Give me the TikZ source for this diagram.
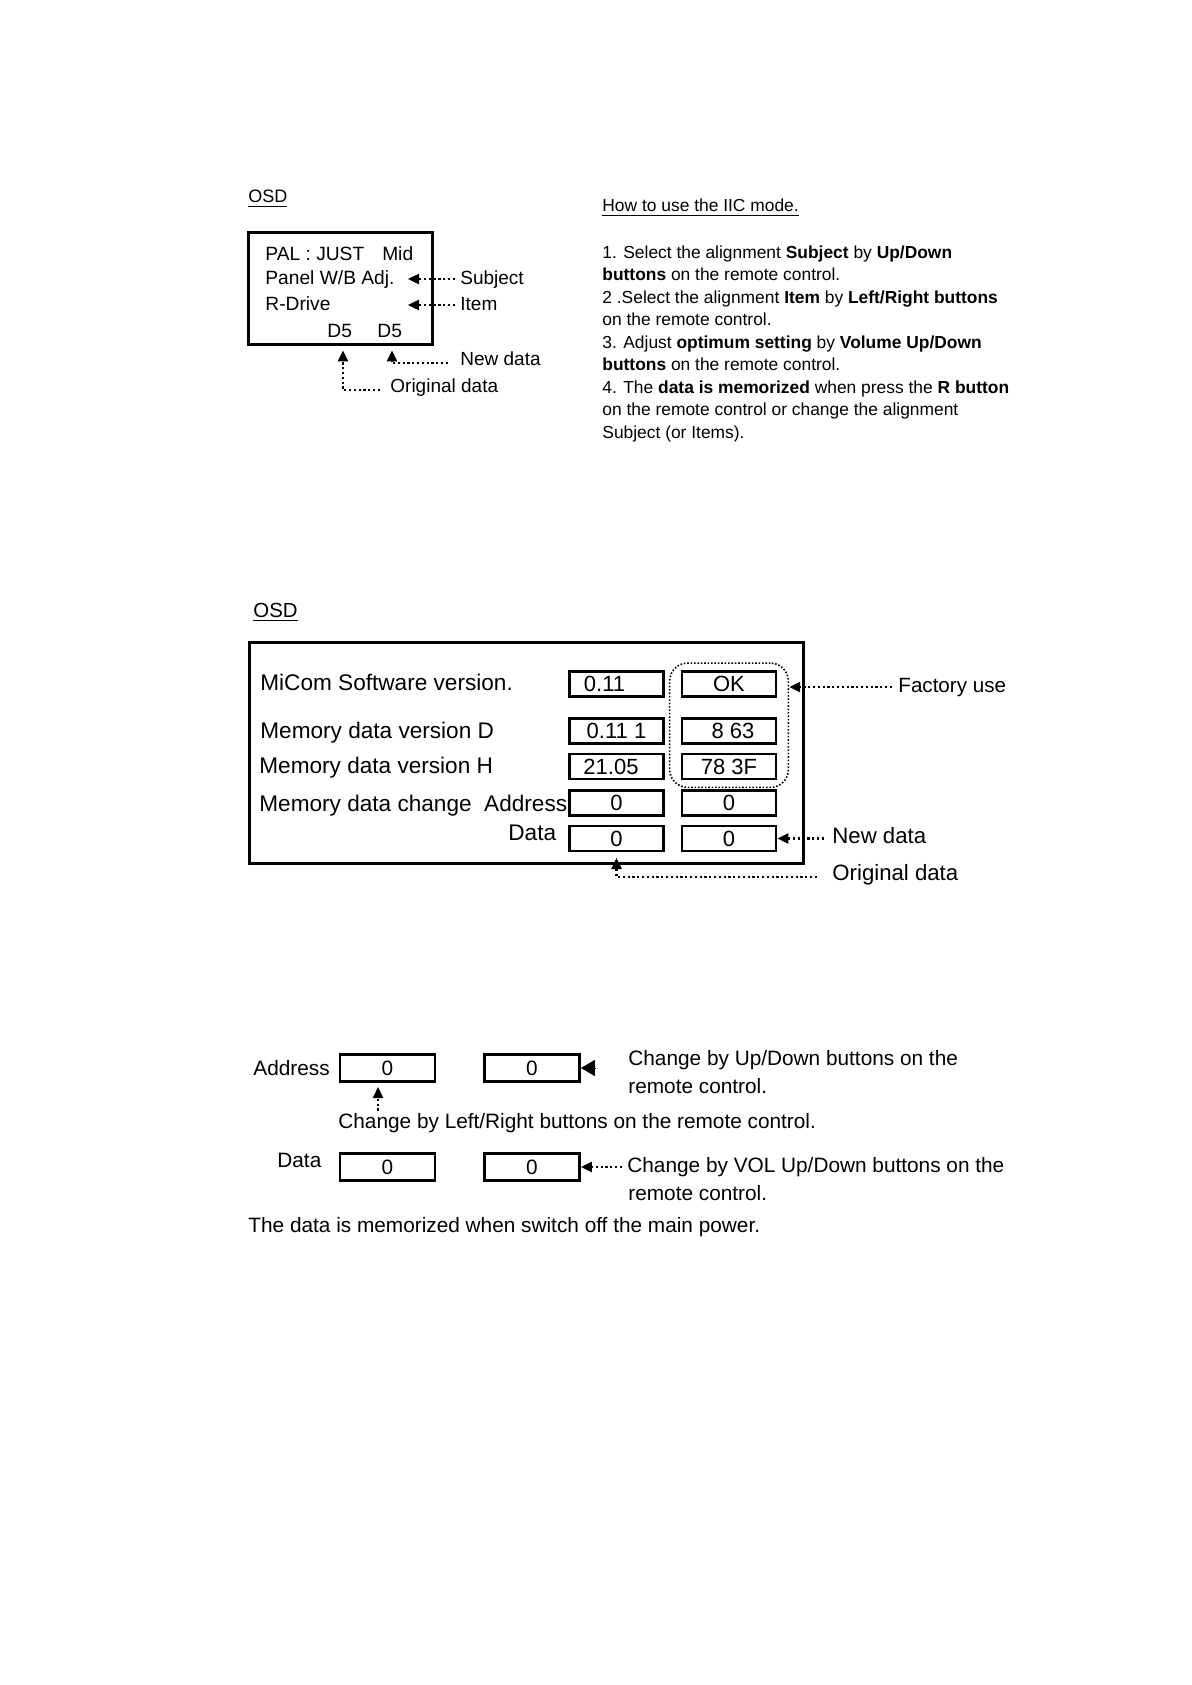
\documentclass[tikz,border=0pt]{standalone}
\usepackage{fontspec}
\setmainfont{Liberation Sans}
\usetikzlibrary{arrows.meta,fit}

\begin{document}
\begin{tikzpicture}[x=0.5pt,y=-0.5pt,
  txt/.style={inner sep=0pt,anchor=base west},
  hdrA/.style={txt,font=\fontsize{9}{11}\selectfont},
  screenA/.style={txt,font=\fontsize{9.6}{11}\selectfont},
  noteA/.style={txt,font=\fontsize{9.5}{11}\selectfont},
  howto/.style={txt,font=\fontsize{8.7}{11}\selectfont},
  hdrB/.style={txt,font=\fontsize{10.2}{12}\selectfont},
  screenB/.style={txt,font=\fontsize{11.3}{13}\selectfont},
  noteB/.style={txt,font=\fontsize{11.1}{13}\selectfont},
  lower/.style={txt,font=\fontsize{10.4}{12}\selectfont},
  frame/.style={draw,line width=1.5pt,inner sep=0pt},
  cell/.style={draw,line width=1.4pt,inner sep=0pt,minimum width=47pt,minimum height=12.5pt,font=\fontsize{11}{13}\selectfont},
  bcell/.style={draw,line width=1.4pt,inner sep=0pt,minimum width=47.5pt,minimum height=13.5pt,font=\fontsize{10.4}{12}\selectfont},
  dotarrow/.style={line width=1.2pt,dash pattern=on 1.1pt off 1.3pt,-{Triangle[length=5.5pt,width=5pt]}},
  factory/.style={draw,line width=0.8pt,dash pattern=on 0.8pt off 0.9pt,rounded corners=9pt,inner xsep=5.5pt,inner ysep=3.5pt}]

\useasboundingbox (0,0) rectangle (1191,1685);

\node[hdrA] (osdTitleA) at (248,203) {\underline{OSD}};
\node[frame,minimum width=92pt,minimum height=56pt] (osdA) at (340.5,288.5) {};
\node[screenA] (palLine) at (265,260) {PAL : JUST\hspace{9pt}Mid};
\node[screenA] (panelLine) at (265,285) {Panel W/B Adj.};
\node[screenA] (driveLine) at (265,310) {R-Drive};
\node[screenA] (d5orig) at (327,337) {D5};
\node[screenA] (d5new) at (377,337) {D5};

\node[noteA] (subjLbl) at (460,285) {Subject};
\node[noteA] (itemLbl) at (460,310) {Item};
\node[noteA] (newLblA) at (460,365) {New data};
\node[noteA] (origLblA) at (390,392) {Original data};

\coordinate (subjTip) at (408,279);
\coordinate (itemTip) at (408,305);
\coordinate (newBendA) at (392,363);
\coordinate (origBendA) at (343,390);
\draw[dotarrow,shorten <=2.5pt] (subjLbl.west |- subjTip) -- (subjTip);
\draw[dotarrow,shorten <=2.5pt] (itemLbl.west |- itemTip) -- (itemTip);
\draw[dotarrow,shorten <=6pt,shorten >=2.2pt] (newLblA.west |- newBendA) -- (newBendA) -- (newBendA |- osdA.south);
\draw[dotarrow,shorten <=5pt,shorten >=2.2pt] (origLblA.west |- origBendA) -- (origBendA) -- (origBendA |- osdA.south);

\node[howto] (howtoTitle) at (602,212) {\underline{How to use the IIC mode.}};
\node[howto] (howto1) at (602,258) {1. Select the alignment \textbf{Subject} by \textbf{Up/Down}};
\node[howto] (howto2) at (602,280.5) {\textbf{buttons} on the remote control.};
\node[howto] (howto3) at (602,303) {2 .Select the alignment \textbf{Item} by \textbf{Left/Right buttons}};
\node[howto] (howto4) at (602,325.5) {on the remote control.};
\node[howto] (howto5) at (602,348) {3. Adjust \textbf{optimum setting} by \textbf{Volume Up/Down}};
\node[howto] (howto6) at (602,370.5) {\textbf{buttons} on the remote control.};
\node[howto] (howto7) at (602,393) {4. The \textbf{data is memorized} when press the \textbf{R button}};
\node[howto] (howto8) at (602,415.5) {on the remote control or change the alignment};
\node[howto] (howto9) at (602,438) {Subject (or Items).};

\node[hdrB] (osdTitleB) at (253,617) {\underline{OSD}};
\node[frame,minimum width=277pt,minimum height=110.5pt] (osdB) at (526.5,753) {};
\node[screenB] (micomLine) at (260,690) {MiCom Software version.};
\node[screenB] (memDLine) at (260,738) {Memory data version D};
\node[screenB] (memHLine) at (259,773) {Memory data version H};
\node[screenB] (changeLine) at (259,811) {Memory data change~~Address};
\node[screenB] (dataLine) at (508,840) {Data};

\node[cell] (verA) at (616.5,684) {0.11\kern12pt};
\node[cell] (verD) at (616.5,731) {0.11 1};
\node[cell] (verH) at (616.5,766.5) {21.05\kern5.5pt};
\node[cell] (addrOld) at (616.5,803) {0};
\node[cell] (dataOld) at (616.5,838.5) {0};
\node[cell] (okCell) at (729,684) {OK};
\node[cell] (sumD) at (729,731) {\kern4pt 8 63};
\node[cell] (sumH) at (729,766.5) {78 3F};
\node[cell] (addrNew) at (729,803) {0};
\node[cell] (dataNew) at (729,838.5) {0};
\node[factory,fit=(okCell)(sumH)] (factory) {};

\node[txt,font=\fontsize{10.3}{12}\selectfont] (factLbl) at (898,692) {Factory use};
\node[noteB] (newLblB) at (832,843) {New data};
\node[noteB] (origLblB) at (832,880) {Original data};

\coordinate (origBendB) at (616.5,877);
\draw[dotarrow,shorten <=3pt] (factLbl.west) -- (factLbl.west -| factory.east);
\draw[dotarrow,shorten <=4pt] (newLblB.west |- dataNew.east) -- (dataNew.east);
\draw[dotarrow,shorten <=7.5pt,shorten >=2.8pt] (origLblB.west |- origBendB) -- (origBendB) -- (dataOld.south);

\node[lower] (addrLbl) at (253,1075) {Address};
\node[bcell] (addrOldB) at (387.5,1068) {0};
\node[bcell] (addrNewB) at (532,1068) {0};
\node[lower] (dataLbl) at (277,1167) {Data};
\node[bcell] (dataOldB) at (387.5,1167) {0};
\node[bcell] (dataNewB) at (532,1167) {0};

\node[lower] (udLbl) at (628,1065) {Change by Up/Down buttons on the};
\node[lower] (udLblB) at (628,1093) {remote control.};
\node[lower] (lrLbl) at (338,1128) {Change by Left/Right buttons on the remote control.};
\node[lower] (volLbl) at (627,1172) {Change by VOL Up/Down buttons on the};
\node[lower] (volLblB) at (628,1200) {remote control.};
\node[lower] (memoLine) at (248,1232) {The data is memorized when switch off the main power.};

\coordinate (lrTip) at (378,1087);
\draw[-{Triangle[length=7pt,width=8pt]}] ([xshift=7pt]addrNewB.east) -- (addrNewB.east);
\draw[dotarrow,shorten <=1pt] (lrTip |- lrLbl.north) -- (lrTip);
\draw[dotarrow,shorten <=2.5pt] (volLbl.west |- dataNewB.east) -- (dataNewB.east);
\end{tikzpicture}
\end{document}
